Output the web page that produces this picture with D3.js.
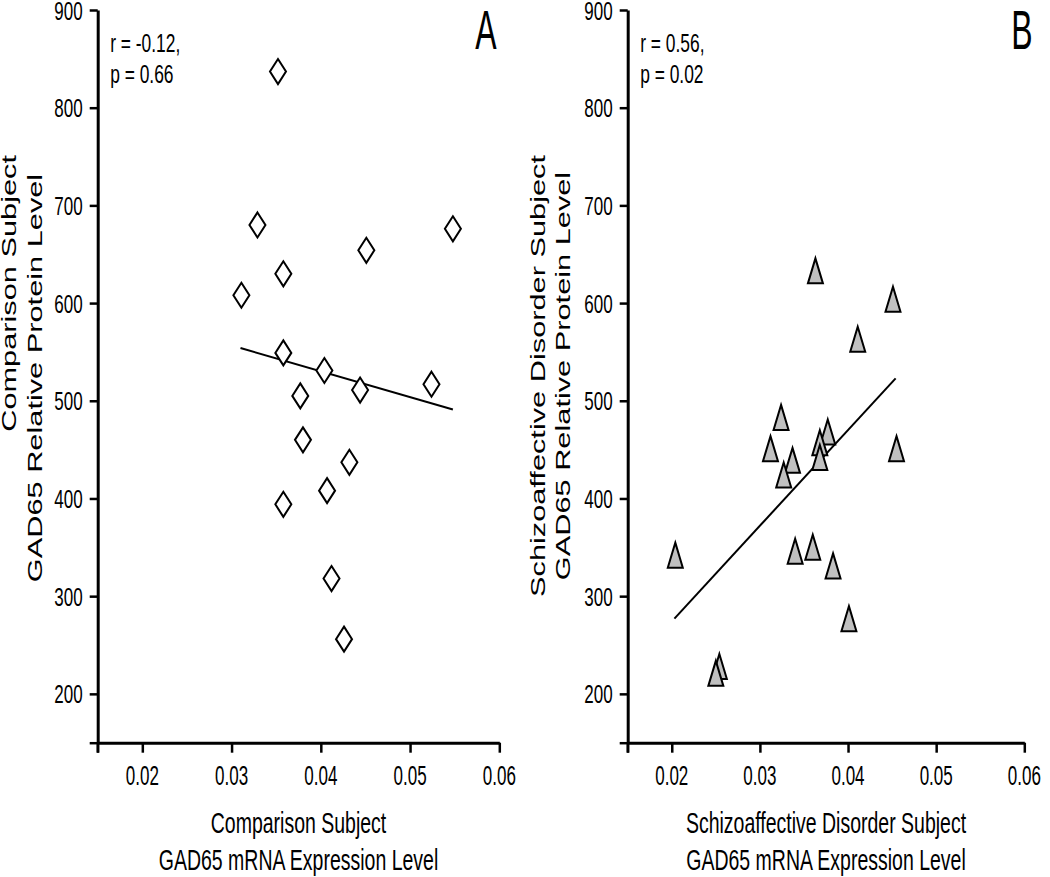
<!DOCTYPE html>
<html>
<head>
<meta charset="utf-8">
<script src="https://cdn.jsdelivr.net/npm/d3@7"></script>
<style>
  html, body { margin: 0; padding: 0; background: #fff; }
  svg { display: block; }
  text { font-family: "Liberation Sans", Arial, sans-serif; fill: #000; }
</style>
</head>
<body>
<svg id="chart" width="1050" height="877"></svg>
<script>
// ---------- data ----------
const compX = [0.0352, 0.0329, 0.0548, 0.0451, 0.0358, 0.0311, 0.0358, 0.0404, 0.0524, 0.0444, 0.0377, 0.0380, 0.0432, 0.0407, 0.0358, 0.0412, 0.0426];
const compY = [837, 680, 676, 654, 630, 608, 549, 531, 517, 511, 505, 460, 437, 408, 394, 318, 256];
const schizoX = [0.0363, 0.0451, 0.0411, 0.0324, 0.0312, 0.0455, 0.0377, 0.0368, 0.0368, 0.0337, 0.0327, 0.0204, 0.0340, 0.0360, 0.0383, 0.0401, 0.0254, 0.0250];
const schizoY = [633, 604, 563, 483, 451, 451, 468, 457, 442, 439, 424, 342, 346, 350, 331, 277, 228, 221];
const compFitX = [0.0310, 0.0548];
const compFitY = [554, 491];
const schizoFitX = [0.0203, 0.0454];
const schizoFitY = [277, 523];
const xTicks = [0.015, 0.02, 0.03, 0.04, 0.05, 0.06];
const xTickLabels = ["", "0.02", "0.03", "0.04", "0.05", "0.06"];
const yTicks = [150, 200, 300, 400, 500, 600, 700, 800, 900];
const yTickLabels = ["", "200", "300", "400", "500", "600", "700", "800", "900"];
const xDomain = [0.015, 0.06];
const yDomain = [150, 900];

const panels = [
  { letter: "A", xs: compX, ys: compY, fx: compFitX, fy: compFitY,
    stats: ["r = -0.12,", "p = 0.66"],
    xTitle: ["Comparison Subject", "GAD65 mRNA Expression Level"],
    yTitle: ["Comparison Subject", "GAD65 Relative Protein Level"],
    marker: "diamond", x0: 97.7, x1: 499.3, letterX: 486,
    yTitleX: [16, 42], yTitleAnchor: ["end", "middle"], yTitleY: [155, 378] },
  { letter: "B", xs: schizoX, ys: schizoY, fx: schizoFitX, fy: schizoFitY,
    stats: ["r = 0.56,", "p = 0.02"],
    xTitle: ["Schizoaffective Disorder Subject", "GAD65 mRNA Expression Level"],
    yTitle: ["Schizoaffective Disorder Subject", "GAD65 Relative Protein Level"],
    marker: "triangle", x0: 627.7, x1: 1024.3, letterX: 1022,
    yTitleX: [545, 570], yTitleAnchor: ["middle", "middle"], yTitleY: [376, 376] }
];

const svg = d3.select("#chart");
const yTop = 10, yBot = 742.7;
const K = 1.5; // vertical stretch of the original figure

function stretchedText(g, x, y, str, size, anchor, k) {
  return g.append("text")
    .attr("transform", `translate(${x},${y}) scale(1,${k})`)
    .attr("text-anchor", anchor)
    .attr("font-size", size)
    .text(str);
}

panels.forEach(p => {
  const g = svg.append("g");
  const x = d3.scaleLinear().domain(xDomain).range([p.x0, p.x1]);
  const y = d3.scaleLinear().domain(yDomain).range([yBot, yTop]);

  // axes
  const xAxis = d3.axisBottom(x).tickValues(xTicks).tickSize(10).tickSizeOuter(0).tickFormat("");
  const yAxis = d3.axisLeft(y).tickValues(yTicks).tickSize(8).tickSizeOuter(0).tickFormat("");
  const gx = g.append("g").attr("transform", `translate(0,${yBot})`).call(xAxis);
  const gy = g.append("g").attr("transform", `translate(${p.x0},0)`).call(yAxis);
  [gx, gy].forEach(a => {
    a.select(".domain").attr("stroke", "#000").attr("stroke-width", 3);
    a.selectAll(".tick line").attr("stroke", "#000").attr("stroke-width", 2.5);
  });
  g.append("line").attr("x1", x(xDomain[0])).attr("x2", x(xDomain[0]))
    .attr("y1", yBot).attr("y2", yBot + 10).attr("stroke", "#000").attr("stroke-width", 2.5);

  // tick labels
  xTicks.forEach((t, i) => {
    if (xTickLabels[i]) stretchedText(g, x(t), 785, xTickLabels[i], 17, "middle", 1.6);
  });
  yTicks.forEach((t, i) => {
    if (yTickLabels[i]) stretchedText(g, p.x0 - 15, y(t) + 9.5, yTickLabels[i], 17, "end", 1.55);
  });

  // regression line
  const fitPts = p.fx.map((v, i) => [x(v), y(p.fy[i])]);
  g.append("path").attr("d", d3.line()(fitPts))
    .attr("fill", "none").attr("stroke", "#000").attr("stroke-width", 2);

  // markers
  const pts = p.xs.map((v, i) => [v, p.ys[i]]);
  const shape = p.marker === "diamond"
    ? "M0,-12.5L8,0L0,12.5L-8,0Z"
    : "M0,-12.5L7.5,12.5L-7.5,12.5Z";
  g.selectAll("path.pt").data(pts).enter().append("path")
    .attr("class", "pt")
    .attr("d", shape)
    .attr("transform", d => `translate(${x(d[0])},${y(d[1])})`)
    .attr("fill", p.marker === "diamond" ? "#fff" : "#c0c0c0")
    .attr("stroke", "#000").attr("stroke-width", 2)
    .attr("stroke-linejoin", "miter");

  // stats text
  stretchedText(g, p.x0 + 12.5, 52, p.stats[0], 17.4, "start", 1.45);
  stretchedText(g, p.x0 + 12.5, 83, p.stats[1], 17.4, "start", 1.45);

  // panel letter
  stretchedText(g, p.letterX, 49, p.letter, 32, "middle", 1.75);

  // x title
  const cx = (p.x0 + p.x1) / 2;
  stretchedText(g, cx, 833, p.xTitle[0], 19.5, "middle", 1.5);
  stretchedText(g, cx, 870, p.xTitle[1], 19.5, "middle", 1.5);

  // y title (rotated, stretched along its length)
  p.yTitle.forEach((t, i) => {
    g.append("text")
      .attr("transform", `translate(${p.yTitleX[i]},${p.yTitleY[i]}) rotate(-90) scale(${K},1)`)
      .attr("text-anchor", p.yTitleAnchor[i] === "end" ? "end" : "middle")
      .attr("font-size", 20.5)
      .text(t);
  });
});
</script>
</body>
</html>
